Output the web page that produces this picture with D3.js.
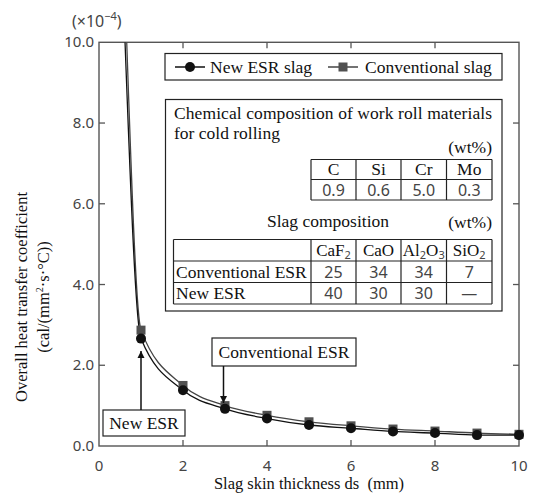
<!DOCTYPE html>
<html>
<head>
<meta charset="utf-8">
<script src="https://cdn.jsdelivr.net/npm/d3@7"></script>
</head>
<body style="margin:0; background:#fff">
<svg id="chart" width="533" height="494"></svg>
<script>
const thickness = [1, 2, 3, 4, 5, 6, 7, 8, 9, 10]
const newEsr = [2.66, 1.38, 0.92, 0.68, 0.52, 0.44, 0.36, 0.32, 0.27, 0.27]
const conventional = [2.87, 1.5, 1.0, 0.76, 0.6, 0.5, 0.42, 0.37, 0.32, 0.29]
// where each line leaves the top of the plot
const newLead = [0.62, 10]
const convLead = [0.66, 10]

const xTicks = [0, 2, 4, 6, 8, 10]
const yTicks = [0, 2, 4, 6, 8, 10]

const rollElements = ['C', 'Si', 'Cr', 'Mo']
const rollValues = ['0.9', '0.6', '5.0', '0.3']
const slagHeads = [['CaF', '2'], ['CaO'], ['Al', '2', 'O', '3'], ['SiO', '2']]
const slagNames = ['Conventional ESR', 'New ESR']
const slagValues = [['25', '34', '34', '7'], ['40', '30', '30', '—']]

const SERIF = 'Liberation Serif'
const SANS = 'Noto Sans'

const svg = d3.select('svg#chart')

function txt (sel, family, size, xx, yy, anchor) {
  return sel.append('text')
    .attr('font-family', family)
    .attr('font-size', size)
    .attr('fill', family === SERIF ? '#111' : '#444')
    .attr('x', xx).attr('y', yy)
    .attr('text-anchor', anchor || 'start')
}

const x = d3.scaleLinear().domain([0, 10]).range([99, 519])
const y = d3.scaleLinear().domain([0, 10]).range([446, 42.3])

const axisColor = '#555'

// frame
svg.append('rect')
  .attr('x', x(0)).attr('y', y(10))
  .attr('width', x(10) - x(0)).attr('height', y(0) - y(10))
  .attr('fill', 'none').attr('stroke', axisColor).attr('stroke-width', 1.4)

// inward ticks
const tl = 6
xTicks.slice(1, -1).forEach(t => {
  svg.append('line').attr('x1', x(t)).attr('x2', x(t)).attr('y1', y(0)).attr('y2', y(0) - tl)
    .attr('stroke', axisColor).attr('stroke-width', 1.3)
  svg.append('line').attr('x1', x(t)).attr('x2', x(t)).attr('y1', y(10)).attr('y2', y(10) + tl)
    .attr('stroke', axisColor).attr('stroke-width', 1.3)
})
yTicks.slice(1, -1).forEach(t => {
  svg.append('line').attr('y1', y(t)).attr('y2', y(t)).attr('x1', x(0)).attr('x2', x(0) + tl)
    .attr('stroke', axisColor).attr('stroke-width', 1.3)
  svg.append('line').attr('y1', y(t)).attr('y2', y(t)).attr('x1', x(10)).attr('x2', x(10) - tl)
    .attr('stroke', axisColor).attr('stroke-width', 1.3)
})

// tick labels
xTicks.forEach(d => txt(svg, SANS, 15, x(d), 471, 'middle').text(d))
yTicks.forEach(d => txt(svg, SANS, 15, 94, y(d) + 5, 'end').text(d3.format('.1f')(d)))

const mult = txt(svg, SANS, 16, 72, 27)
mult.append('tspan').text('(×10')
mult.append('tspan').attr('dy', -7).attr('font-size', 11).text('−4')
mult.append('tspan').attr('dy', 7).text(')')

// axis titles
txt(svg, SERIF, 16.5, x(5), 489, 'middle').text('Slag skin thickness ds\u00a0\u00a0(mm)')

const yt = svg.append('g').attr('transform', 'translate(27,297) rotate(-90)')
txt(yt, SERIF, 16.5, 0, 0, 'middle').text('Overall heat transfer coefficient')
const yt2 = txt(yt, SERIF, 16.5, 0, 22, 'middle')
yt2.append('tspan').text('(cal/(mm')
yt2.append('tspan').attr('dy', -6).attr('font-size', 10).text('2')
yt2.append('tspan').attr('dy', 6).text('·s·°C))')

// lines
svg.append('clipPath').attr('id', 'plot').append('rect')
  .attr('x', x(0)).attr('y', y(10)).attr('width', x(10) - x(0)).attr('height', y(0) - y(10))

const line = d3.line().x(d => x(d[0])).y(d => y(d[1])).curve(d3.curveMonotoneX)
const convPts = [convLead].concat(thickness.map((t, i) => [t, conventional[i]]))
const newPts = [newLead].concat(thickness.map((t, i) => [t, newEsr[i]]))

svg.append('path').datum(convPts).attr('d', line).attr('clip-path', 'url(#plot)')
  .attr('fill', 'none').attr('stroke', '#444').attr('stroke-width', 1.3)
svg.append('path').datum(newPts).attr('d', line).attr('clip-path', 'url(#plot)')
  .attr('fill', 'none').attr('stroke', '#111').attr('stroke-width', 1.3)

svg.selectAll('rect.sq').data(thickness).enter().append('rect')
  .attr('class', 'sq')
  .attr('x', d => x(d) - 4.5).attr('y', (d, i) => y(conventional[i]) - 4.5)
  .attr('width', 9).attr('height', 9).attr('fill', '#505050')
svg.selectAll('circle.dot').data(thickness).enter().append('circle')
  .attr('class', 'dot')
  .attr('cx', d => x(d)).attr('cy', (d, i) => y(newEsr[i]))
  .attr('r', 5).attr('fill', '#111')

// legend
svg.append('rect').attr('x', 165).attr('y', 53.5).attr('width', 337).attr('height', 26.5)
  .attr('fill', '#fff').attr('stroke', '#222').attr('stroke-width', 1.2)
svg.append('line').attr('x1', 175).attr('x2', 205).attr('y1', 67).attr('y2', 67).attr('stroke', '#111').attr('stroke-width', 1.5)
svg.append('circle').attr('cx', 190).attr('cy', 67).attr('r', 5).attr('fill', '#111')
txt(svg, SERIF, 17.5, 210, 73).text('New ESR slag')
svg.append('line').attr('x1', 328).attr('x2', 358).attr('y1', 67).attr('y2', 67).attr('stroke', '#444').attr('stroke-width', 1.5)
svg.append('rect').attr('x', 338.5).attr('y', 62.5).attr('width', 9).attr('height', 9).attr('fill', '#505050')
txt(svg, SERIF, 17.5, 365, 73).text('Conventional slag')

// composition box
svg.append('rect').attr('x', 165.5).attr('y', 99.5).attr('width', 336.5).attr('height', 211.5)
  .attr('fill', '#fff').attr('stroke', '#222').attr('stroke-width', 1.2)
txt(svg, SERIF, 17.5, 174, 119).attr('textLength', 318).text('Chemical composition of work roll materials')
txt(svg, SERIF, 17.5, 174, 139).text('for cold rolling')
txt(svg, SERIF, 17.5, 492, 153, 'end').text('(wt%)')

const cols = [311, 356, 401, 446.5, 492]

function cellLines (xs, ys) {
  ys.forEach(yy => svg.append('line').attr('x1', xs[0]).attr('x2', xs[xs.length - 1]).attr('y1', yy).attr('y2', yy)
    .attr('stroke', '#222').attr('stroke-width', 1.2))
  xs.forEach(xx => svg.append('line').attr('x1', xx).attr('x2', xx).attr('y1', ys[0]).attr('y2', ys[ys.length - 1])
    .attr('stroke', '#222').attr('stroke-width', 1.2))
}

// roll table
cellLines(cols, [159.5, 179.5, 200])
rollElements.forEach((e, i) => {
  const cx = (cols[i] + cols[i + 1]) / 2
  txt(svg, SERIF, 17.5, cx, 175, 'middle').text(e)
  txt(svg, SANS, 16, cx, 195.5, 'middle').text(rollValues[i])
})

txt(svg, SERIF, 17.5, 328, 227, 'middle').text('Slag composition')
txt(svg, SERIF, 17.5, 492, 228, 'end').text('(wt%)')

// slag table
const sCols = [173.5].concat(cols)
const sRows = [239.5, 261, 282.5, 304]
cellLines(sCols, sRows)
slagHeads.forEach((h, i) => {
  const t = txt(svg, SERIF, 17, (cols[i] + cols[i + 1]) / 2, 256, 'middle')
  h.forEach((part, k) => {
    if (k % 2 === 0) t.append('tspan').attr('dy', k ? -3 : 0).text(part)
    else t.append('tspan').attr('font-family', SANS).attr('fill', '#444').attr('font-size', 11).attr('dy', 3).text(part)
  })
})
slagNames.forEach((n, r) => {
  txt(svg, SERIF, 17.5, 176, sRows[r + 1] + 16.5).text(n)
  slagValues[r].forEach((v, i) => {
    txt(svg, SANS, 16, (cols[i] + cols[i + 1]) / 2, sRows[r + 1] + 16.5, 'middle').text(v)
  })
})

// annotations
svg.append('defs').append('marker').attr('id', 'arr').attr('viewBox', '0 0 10 10')
  .attr('refX', 10).attr('refY', 5).attr('markerWidth', 7).attr('markerHeight', 8)
  .attr('markerUnits', 'userSpaceOnUse').attr('orient', 'auto')
  .append('path').attr('d', 'M0,0L10,5L0,10Z').attr('fill', '#111')

svg.append('rect').attr('x', 212).attr('y', 338).attr('width', 144).attr('height', 28)
  .attr('fill', '#fff').attr('stroke', '#222').attr('stroke-width', 1.2)
txt(svg, SERIF, 17.5, 284, 358, 'middle').text('Conventional ESR')
svg.append('line').attr('x1', x(3) - 1.5).attr('x2', x(3) - 1.5).attr('y1', 366).attr('y2', 403)
  .attr('stroke', '#111').attr('stroke-width', 1.5).attr('marker-end', 'url(#arr)')

svg.append('rect').attr('x', 103).attr('y', 410).attr('width', 82).attr('height', 26)
  .attr('fill', '#fff').attr('stroke', '#222').attr('stroke-width', 1.2)
txt(svg, SERIF, 17.5, 144, 429, 'middle').text('New ESR')
svg.append('line').attr('x1', x(1)).attr('x2', x(1)).attr('y1', 410).attr('y2', 351)
  .attr('stroke', '#111').attr('stroke-width', 1.5).attr('marker-end', 'url(#arr)')
</script>
</body>
</html>
